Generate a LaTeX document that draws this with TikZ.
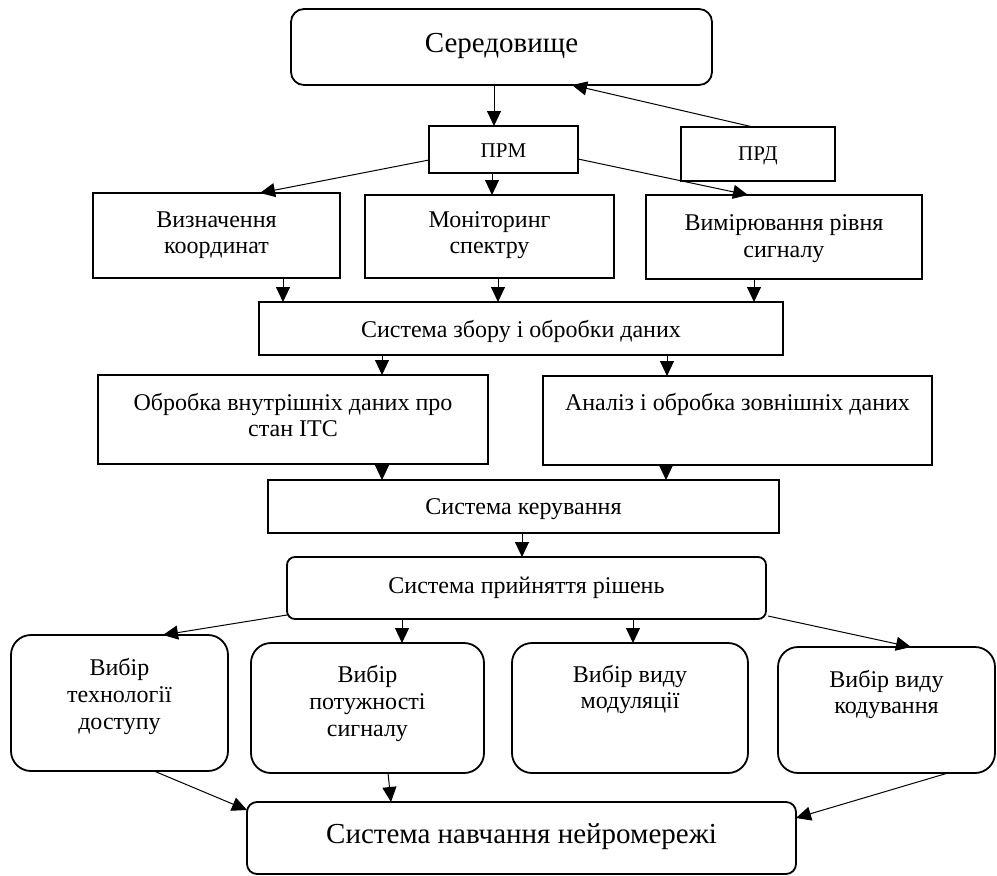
\documentclass[tikz,border=0pt]{standalone}
\usepackage{fontspec}
\setmainfont{Liberation Serif}
\usetikzlibrary{arrows.meta}
\begin{document}
\begin{tikzpicture}[x=1pt,y=-1pt,
  box/.style={draw,line width=1.8pt,inner sep=0pt,outer sep=0pt},
  rbox/.style={box,rounded corners=#1},
  arr/.style={line width=1pt,-{Triangle[length=15pt,width=14pt]}},
  txt/.style={anchor=base,inner sep=0pt,font=\fontsize{24}{27}\selectfont},
  big/.style={txt,font=\fontsize{29}{33}\selectfont},
  small/.style={txt,font=\fontsize{21}{24}\selectfont}]
\useasboundingbox (0,0) rectangle (997,876);

% boxes
\node[rbox=13pt,minimum width=421pt,minimum height=76pt] (sered) at (501.5,47) {};
\node[box,minimum width=149pt,minimum height=47pt] (prm) at (503.5,149.5) {};
\node[box,minimum width=154pt,minimum height=54pt] (prd) at (758,154) {};
\node[box,minimum width=247pt,minimum height=85pt] (vyzn) at (216.5,235.5) {};
\node[box,minimum width=249pt,minimum height=83pt] (monit) at (489.5,236.5) {};
\node[box,minimum width=276pt,minimum height=84pt] (vymir) at (784,237) {};
\node[box,minimum width=524pt,minimum height=53pt] (szbor) at (521,328.5) {};
\node[box,minimum width=390pt,minimum height=89pt] (obrob) at (293,419.5) {};
\node[box,minimum width=389pt,minimum height=89pt] (analiz) at (737.5,420.5) {};
\node[box,minimum width=511pt,minimum height=53pt] (keruv) at (523.5,506.5) {};
\node[rbox=8pt,minimum width=479pt,minimum height=62pt] (pryin) at (526.5,588) {};
\node[rbox=20pt,minimum width=217pt,minimum height=136pt] (tech) at (119.5,703) {};
\node[rbox=20pt,minimum width=233pt,minimum height=130pt] (potuzh) at (367.5,708) {};
\node[rbox=20pt,minimum width=236pt,minimum height=130pt] (modul) at (630,708) {};
\node[rbox=20pt,minimum width=217pt,minimum height=126pt] (koduv) at (886.5,710) {};
\node[rbox=10pt,minimum width=549pt,minimum height=72pt] (navch) at (521.5,838) {};

% texts
\node[big] (tsered) at (501.5,52) {Середовище};
\node[small] (tprm) at (503.5,157) {ПРМ};
\node[small] (tprd) at (758,160) {ПРД};
\node[txt] (tvyzn1) at (216.5,227) {Визначення};
\node[txt] (tvyzn2) at (216.5,253) {координат};
\node[txt] (tmonit1) at (489.5,227) {Моніторинг};
\node[txt] (tmonit2) at (489.5,253) {спектру};
\node[txt] (tvymir1) at (784,230) {Вимірювання рівня};
\node[txt] (tvymir2) at (784,257) {сигналу};
\node[txt] (tszbor) at (521,337) {Система збору і обробки даних};
\node[txt] (tobrob1) at (293,410) {Обробка внутрішніх даних про};
\node[txt] (tobrob2) at (293,436) {стан ІТС};
\node[txt] (tanaliz) at (737.5,410) {Аналіз і обробка зовнішніх даних};
\node[txt] (tkeruv) at (523.5,514) {Система керування};
\node[txt] (tpryin) at (526.5,593) {Система прийняття рішень};
\node[txt] (ttech1) at (119.5,675) {Вибір};
\node[txt] (ttech2) at (119.5,702) {технології};
\node[txt] (ttech3) at (119.5,729) {доступу};
\node[txt] (tpot1) at (367.5,682) {Вибір};
\node[txt] (tpot2) at (367.5,709) {потужності};
\node[txt] (tpot3) at (367.5,736) {сигналу};
\node[txt] (tmod1) at (630,682) {Вибір виду};
\node[txt] (tmod2) at (630,708) {модуляції};
\node[txt] (tkod1) at (886.5,687) {Вибір виду};
\node[txt] (tkod2) at (886.5,713) {кодування};
\node[big] (tnavch) at (521.5,843) {Система навчання нейромережі};

% connectors
\draw[arr] ([xshift=-7.5pt]sered.south) -- ([xshift=-9.5pt]prm.north);
\draw[arr] ([xshift=-5pt]prd.north) -- ([xshift=70.5pt]sered.south);
\draw[arr] ([yshift=-10.5pt]prm.west) -- ([xshift=43.5pt]vyzn.north);
\draw[arr] ([xshift=-11.5pt]prm.south) -- ([xshift=2.5pt]monit.north);
\draw[arr] ([yshift=-9.5pt]prm.east) -- ([xshift=-36pt]vymir.north);
\draw[arr] ([xshift=66.5pt]vyzn.south) -- ([xshift=-238pt]szbor.north);
\draw[arr] ([xshift=8.5pt]monit.south) -- ([xshift=-23pt]szbor.north);
\draw[arr] ([xshift=-30pt]vymir.south) -- ([xshift=233pt]szbor.north);
\draw[arr] ([xshift=-139pt]szbor.south) -- ([xshift=89pt]obrob.north);
\draw[arr] ([xshift=146pt]szbor.south) -- ([xshift=-70.5pt]analiz.north);
\draw[arr] ([xshift=89pt]obrob.south) -- ([xshift=-141.5pt]keruv.north);
\draw[arr] ([xshift=-71.5pt]analiz.south) -- ([xshift=142.5pt]keruv.north);
\draw[arr] ([xshift=-1.5pt]keruv.south) -- ([xshift=-4.5pt]pryin.north);
\draw[arr] ([yshift=4pt]pryin.south west) -- ([xshift=43.5pt]tech.north);
\draw[arr] ([xshift=-124.5pt]pryin.south) -- ([xshift=34.5pt]potuzh.north);
\draw[arr] ([xshift=106.5pt]pryin.south) -- ([xshift=3pt]modul.north);
\draw[arr] ([xshift=2pt,yshift=3pt]pryin.south east) -- ([xshift=24.5pt]koduv.north);
\draw[arr] ([xshift=34.5pt]tech.south) -- ([yshift=28pt]navch.west);
\draw[arr] ([xshift=20.5pt]potuzh.south) -- ([xshift=-130.5pt]navch.north);
\draw[arr] ([xshift=61.5pt]koduv.south) -- ([yshift=20pt]navch.east);
\end{tikzpicture}
\end{document}
